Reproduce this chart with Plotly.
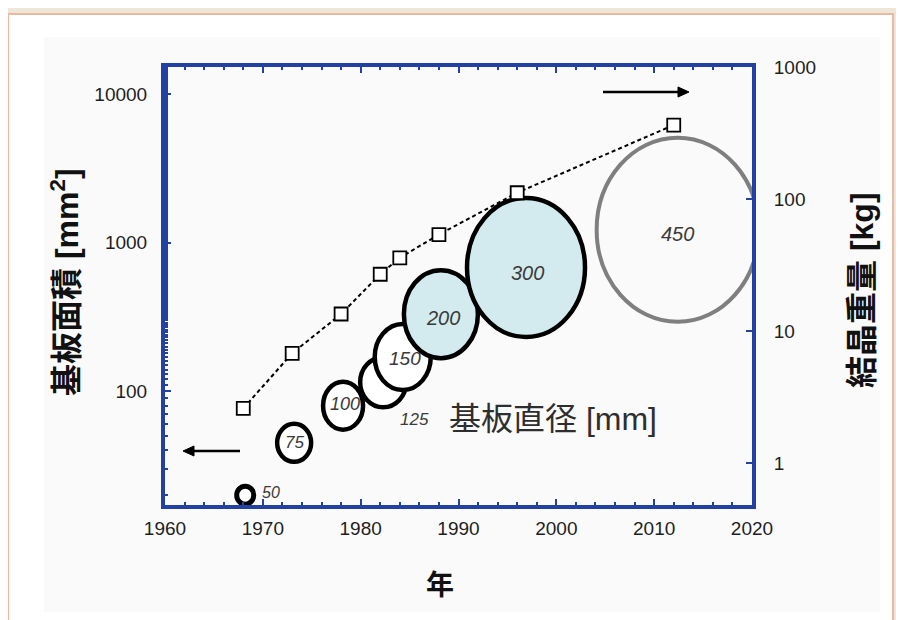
import math
import plotly.graph_objects as go

# ---------------- data ----------------
# crystal weight (right axis, kg) - open squares joined by a dashed line
weight_years = [1968, 1973, 1978, 1982, 1984, 1988, 1996, 2012]
crystal_weight_kg = [2.6, 6.8, 13.5, 27, 36, 54, 112, 365]

# substrate area (left axis) - circles labelled with the wafer diameter
wafer_years = [1968.2, 1973.2, 1978.2, 1982.3, 1984.3, 1988.2, 1996.9, 2012.4]
substrate_area = [20, 45, 80, 115, 170, 330, 680, 1220]
diameter_mm = [50, 75, 100, 125, 150, 200, 300, 450]

x_tick_vals = [1960, 1970, 1980, 1990, 2000, 2010, 2020]
x_tick_text = ["1960", "1970", "1980", "1990", "2000", "2010", "2020"]
left_tick_vals = [100, 1000, 10000]
left_tick_text = ["100", "1000", "10000"]
right_tick_vals = [1, 10, 100, 1000]
right_tick_text = ["1", "10", "100", "1000"]

# ---------------- styles ----------------
AXIS_BLUE = "#2340A3"
TICK_FONT = dict(family="Liberation Sans, Arial, sans-serif", size=19, color="#1E1E1E")
CJK = "Liberation Sans, Noto Sans CJK JP, sans-serif"
# pixel size (w, h) of each wafer ellipse, stroke width, fill, stroke colour
CIRCLE_STYLE = {
    50: dict(w=17, h=18, lw=5, fill="#FFFFFF", line="#000000"),
    75: dict(w=34, h=38, lw=4.5, fill="#FFFFFF", line="#000000"),
    100: dict(w=40, h=48, lw=4.5, fill="#FFFFFF", line="#000000"),
    125: dict(w=46, h=50, lw=4.5, fill="#FFFFFF", line="#000000"),
    150: dict(w=56, h=66, lw=4.5, fill="#FFFFFF", line="#000000"),
    200: dict(w=74, h=88, lw=4.5, fill="#D3EBEE", line="#000000"),
    300: dict(w=118, h=139, lw=4.5, fill="#D3EBEE", line="#000000"),
    450: dict(w=162, h=184, lw=4, fill="rgba(0,0,0,0)", line="#7F7F7F"),
}
# label font size and pixel shift relative to the ellipse centre
LABEL_STYLE = {
    50: dict(size=16, dx=26, dy=3),
    75: dict(size=17, dx=0, dy=0),
    100: dict(size=18, dx=2, dy=2),
    125: dict(size=17, dx=31, dy=-37),
    150: dict(size=19, dx=2, dy=-1),
    200: dict(size=20, dx=2, dy=-4),
    300: dict(size=20, dx=1, dy=-6),
    450: dict(size=20, dx=0, dy=-4),
}


def ellipse_path(w, h):
    rx, ry, k = w / 2.0, h / 2.0, 0.5523
    return (
        f"M {rx},0 "
        f"C {rx},{k*ry} {k*rx},{ry} 0,{ry} "
        f"C {-k*rx},{ry} {-rx},{k*ry} {-rx},0 "
        f"C {-rx},{-k*ry} {-k*rx},{-ry} 0,{-ry} "
        f"C {k*rx},{-ry} {rx},{-k*ry} {rx},0 Z"
    )


fig = go.Figure()

# page is placed 8px in from the window corner
W, H = 896, 612
PL, PT, PW, PH = 157, 59, 587, 438


def px_x(p):
    return (p - 165) / float(PW)


def px_y(p):
    return (505 - p) / float(PH)


shapes = [
    dict(type="rect", xref="paper", yref="paper", layer="below",
         x0=px_x(8), x1=px_x(893), y0=px_y(660), y1=px_y(14),
         fillcolor="#FFFFFF", line=dict(color="#EBB9A2", width=2)),
    dict(type="rect", xref="paper", yref="paper", layer="below",
         x0=px_x(44), x1=px_x(880), y0=px_y(612), y1=px_y(37),
         fillcolor="#FAFAFA", line=dict(width=0)),
]

# ---------------- wafer ellipses ----------------
for yr, area, d in zip(wafer_years, substrate_area, diameter_mm):
    st = CIRCLE_STYLE[d]
    shapes.append(dict(
        type="path", xref="x", yref="y", layer="between",
        xsizemode="pixel", ysizemode="pixel",
        xanchor=yr, yanchor=area,
        path=ellipse_path(st["w"], st["h"]),
        fillcolor=st["fill"], line=dict(color=st["line"], width=st["lw"]),
    ))


# ---------------- axis-direction arrows (decorations) ----------------
def arrow(x_tail, x_head, y):
    sgn = 1 if x_head > x_tail else -1
    base = x_head - sgn * 11
    out = [dict(type="line", xref="paper", yref="paper", layer="above",
                x0=px_x(x_tail), x1=px_x(base), y0=px_y(y), y1=px_y(y),
                line=dict(color="#000000", width=2.4))]
    out.append(dict(type="path", xref="paper", yref="paper", layer="above",
                    path=(f"M {px_x(x_head)},{px_y(y)} L {px_x(base)},{px_y(y - 5)} "
                          f"L {px_x(base)},{px_y(y + 5)} Z"),
                    fillcolor="#000000", line=dict(color="#000000", width=1)))
    return out


shapes += arrow(603, 689, 92)
shapes += arrow(240, 183, 451)

# ---------------- weight trace ----------------
fig.add_trace(go.Scatter(
    x=weight_years, y=crystal_weight_kg, yaxis="y2", mode="lines+markers",
    line=dict(color="#000000", width=2, dash="4px,3px"),
    marker=dict(symbol="square", size=13, color="#FFFFFF",
                line=dict(color="#000000", width=1.8)),
    showlegend=False, hoverinfo="skip",
))
# invisible trace on the left axis so that it is active
fig.add_trace(go.Scatter(x=wafer_years, y=substrate_area, mode="markers",
                         marker=dict(size=1, color="rgba(0,0,0,0)"),
                         showlegend=False, hoverinfo="skip"))

annotations = []
for yr, area, d in zip(wafer_years, substrate_area, diameter_mm):
    ls = LABEL_STYLE[d]
    annotations.append(dict(
        x=yr, y=math.log10(area), xref="x", yref="y", showarrow=False,
        text="<i>%d</i>" % d, xshift=ls["dx"], yshift=ls["dy"],
        font=dict(family="Liberation Sans, Arial, sans-serif", size=ls["size"], color="#3A3A3A"),
    ))

# caption
annotations.append(dict(
    x=px_x(447), y=px_y(419), xref="paper", yref="paper",
    xanchor="left", yanchor="middle",
    showarrow=False, text="基板直径 [mm]",
    font=dict(family=CJK, size=32, color="#2E2E2E"),
))

# axis titles
annotations.append(dict(x=px_x(65), y=px_y(282), xref="paper", yref="paper",
                        xanchor="center", yanchor="middle",
                        textangle=-90, showarrow=False,
                        text="<b>基板面積 [mm<sup>2</sup>]</b>",
                        font=dict(family=CJK, size=32, color="#111111")))
annotations.append(dict(x=px_x(862), y=px_y(290), xref="paper", yref="paper",
                        xanchor="center", yanchor="middle",
                        textangle=-90, showarrow=False,
                        text="<b>結晶重量 [kg]</b>",
                        font=dict(family=CJK, size=32, color="#111111")))
annotations.append(dict(x=px_x(440), y=px_y(585), xref="paper", yref="paper",
                        xanchor="center", yanchor="middle",
                        showarrow=False, text="<b>年</b>",
                        font=dict(family=CJK, size=28, color="#111111")))

axis_common = dict(
    showline=True, linecolor=AXIS_BLUE, linewidth=4, showgrid=False, zeroline=False,
    ticks="inside", tickcolor=AXIS_BLUE, tickwidth=2, ticklen=6, tickfont=TICK_FONT,
)

fig.update_layout(
    width=W, height=H,
    margin=dict(l=PL, r=W - PL - PW, t=PT, b=H - PT - PH, autoexpand=False),
    paper_bgcolor="#EEE6D6", plot_bgcolor="rgba(0,0,0,0)",
    shapes=shapes, annotations=annotations, showlegend=False,
    xaxis=dict(range=[1960, 2020], tickvals=x_tick_vals, ticktext=x_tick_text,
               mirror="ticks", ticklabelstandoff=3,
               minor=dict(dtick=2, ticks="inside", ticklen=3, tickwidth=1.5,
                          tickcolor=AXIS_BLUE, showgrid=False),
               **axis_common),
    yaxis=dict(type="log", range=[1.235, 4.181], tickvals=left_tick_vals,
               ticktext=left_tick_text, ticklabelstandoff=10,
               minor=dict(ticks="inside", ticklen=3, tickwidth=1.5,
                          tickcolor=AXIS_BLUE, showgrid=False),
               **axis_common),
    yaxis2=dict(type="log", range=[-0.317, 3.002], tickvals=right_tick_vals,
                ticktext=right_tick_text,
                overlaying="y", side="right", ticklabelstandoff=14,
                **axis_common),
)

fig.write_html("out.html")
